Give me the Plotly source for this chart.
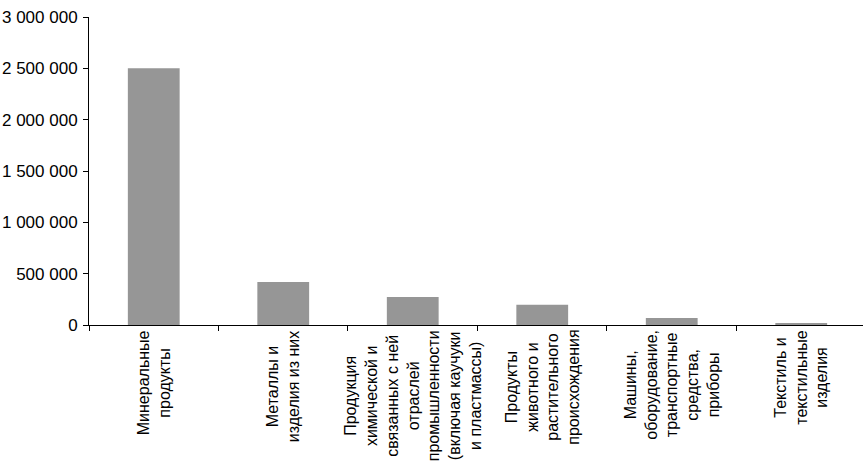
import plotly.graph_objects as go

categories = [
    "Минеральные<br>продукты",
    "Металлы и<br>изделия из них",
    "Продукция<br>химической и<br>связанных с ней<br>отраслей<br>промышленности<br>(включая каучуки<br>и пластмассы)",
    "Продукты<br>животного и<br>растительного<br>происхождения",
    "Машины,<br>оборудование,<br>транспортные<br>средства,<br>приборы",
    "Текстиль и<br>текстильные<br>изделия",
]
values = [2500000, 419000, 273000, 197000, 68000, 10000]
y_ticks = [0, 500000, 1000000, 1500000, 2000000, 2500000, 3000000]

FONT = "Liberation Sans, Arial, sans-serif"

fig = go.Figure(
    go.Bar(
        x=categories,
        y=values,
        marker=dict(color="#969696", line=dict(width=0)),
    )
)

for c in categories:
    fig.add_annotation(
        x=c, xref="x", y=0, yref="paper",
        text=c, textangle=-90, align="center",
        xanchor="center", yanchor="top", yshift=-3,
        showarrow=False,
        font=dict(family=FONT, size=16, color="black"),
    )

fig.update_layout(
    template="none",
    width=863, height=473,
    margin=dict(l=89, r=0, t=17, b=148, autoexpand=False),
    paper_bgcolor="white", plot_bgcolor="white",
    bargap=0.6,
    separators=", ",
    showlegend=False,
    font=dict(family=FONT, size=16, color="black"),
)
fig.update_xaxes(
    type="category",
    range=[-0.5, 5.477],
    automargin=False,
    showticklabels=False,
    tickson="boundaries",
    ticks="outside", ticklen=5, tickcolor="black", tickwidth=1,
    showline=True, linecolor="black", linewidth=1,
    showgrid=False, zeroline=False,
)
fig.update_yaxes(
    range=[0, 3000000],
    automargin=False,
    tickvals=y_ticks,
    tickformat=",d",
    ticks="outside", ticklen=5, tickcolor="black", tickwidth=1,
    ticklabelstandoff=2,
    showline=True, linecolor="black", linewidth=1,
    showgrid=False, zeroline=False,
    tickfont=dict(family=FONT, size=17, color="black"),
)

fig.write_html(
    "out.html",
    config={"displayModeBar": False},
    post_script="document.body.style.margin='0';",
)
